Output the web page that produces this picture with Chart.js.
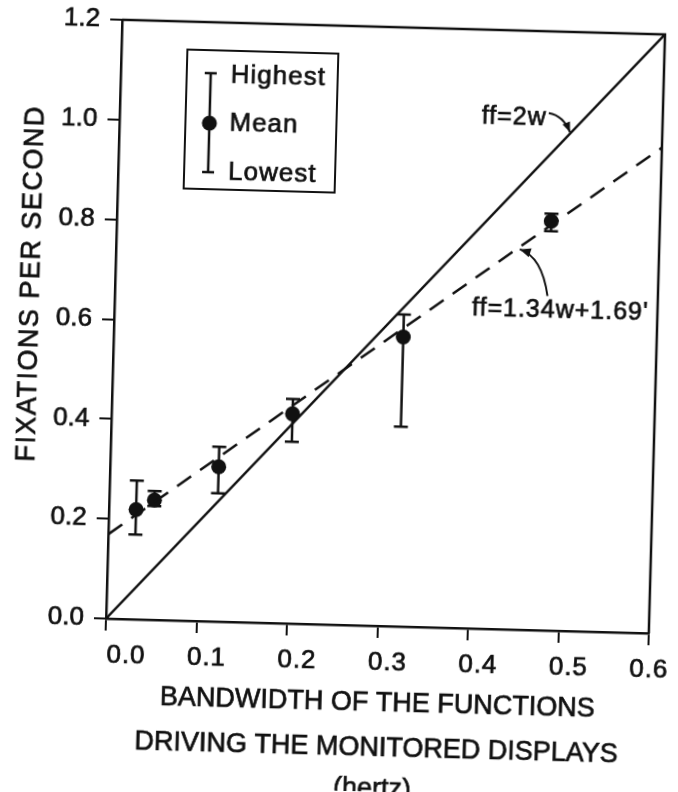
<!DOCTYPE html>
<html>
<head>
<meta charset="utf-8">
<script src="https://cdn.jsdelivr.net/npm/chart.js@4.4.1/dist/chart.umd.min.js"></script>
<style>
  html, body { margin: 0; padding: 0; background: #ffffff; overflow: hidden; }
  /* the printed figure sits slightly askew on its page */
  canvas { display: block; transform-origin: 385px 326px; transform: rotate(1.55deg); }
</style>
</head>
<body>
<canvas id="fixations" width="678" height="792"></canvas>
<script>
// Bandwidth of each monitored display's driving function (Hz)
const bandwidthHz = [0.03, 0.05, 0.12, 0.20, 0.32, 0.48];
// Fixation rate per display (fixations per second)
const meanFixRate = [0.22, 0.24, 0.31, 0.42, 0.58, 0.82];
const highFixRate = [0.278, 0.258, 0.35, 0.45, 0.625, 0.835];
const lowFixRate  = [0.17, 0.228, 0.257, 0.364, 0.40, 0.80];

// Reference lines, given at both ends of the bandwidth range
const lineBandwidth = [0, 0.6];
const nyquistRate = [0, 1.2];        // ff = 2w
const fittedRate = [0.169, 0.973];   // ff = 1.34w + .169

// Axis ticks
const xTickValues = [0, 0.1, 0.2, 0.3, 0.4, 0.5, 0.6];
const yTickValues = [0, 0.2, 0.4, 0.6, 0.8, 1.0, 1.2];

const FONT = '"Liberation Sans", Arial, Helvetica, sans-serif';
const INK = '#111111';

const toPoints = (xs, ys) => xs.map((x, i) => ({ x: x, y: ys[i] }));

function arrowHead(ctx, tx, ty, fx, fy, len, half) {
  const a = Math.atan2(ty - fy, tx - fx);
  ctx.beginPath();
  ctx.moveTo(tx, ty);
  ctx.lineTo(tx - len * Math.cos(a) + half * Math.sin(a), ty - len * Math.sin(a) - half * Math.cos(a));
  ctx.lineTo(tx - len * Math.cos(a) - half * Math.sin(a), ty - len * Math.sin(a) + half * Math.cos(a));
  ctx.closePath();
  ctx.fill();
}

function setSpacing(ctx, px) {
  if ('letterSpacing' in ctx) ctx.letterSpacing = px + 'px';
}

// filled text with a hairline outline so it reads as heavy print
function inkText(ctx, str, x, y) {
  ctx.fillText(str, x, y);
  ctx.strokeText(str, x, y);
}

const figurePlugin = {
  id: 'figureExtras',
  beforeDatasetsDraw(chart) {
    // high/low range bars behind the mean markers
    const { ctx, scales: { x, y } } = chart;
    ctx.save();
    ctx.strokeStyle = INK;
    ctx.lineWidth = 2.5;
    bandwidthHz.forEach((w, i) => {
      const px = x.getPixelForValue(w);
      const hi = y.getPixelForValue(highFixRate[i]);
      const lo = y.getPixelForValue(lowFixRate[i]);
      ctx.beginPath();
      ctx.moveTo(px, hi); ctx.lineTo(px, lo);
      ctx.moveTo(px - 7, hi); ctx.lineTo(px + 7, hi);
      ctx.moveTo(px - 7, lo); ctx.lineTo(px + 7, lo);
      ctx.stroke();
    });
    ctx.restore();
  },
  afterDraw(chart) {
    const { ctx, chartArea: ca, scales: { x, y } } = chart;
    const P = (w, f) => [x.getPixelForValue(w), y.getPixelForValue(f)];
    ctx.save();
    ctx.strokeStyle = INK;
    ctx.fillStyle = INK;

    // frame: top and right edges
    ctx.lineWidth = 2.5;
    ctx.beginPath();
    ctx.moveTo(ca.left, ca.top);
    ctx.lineTo(ca.right, ca.top);
    ctx.lineTo(ca.right, ca.bottom);
    ctx.stroke();

    // bandwidth tick labels, set just right of each tick
    setSpacing(ctx, 1);
    ctx.font = '26px ' + FONT;
    ctx.textAlign = 'center';
    ctx.textBaseline = 'middle';
    ctx.lineWidth = 0.7;
    const last = xTickValues.length - 1;
    xTickValues.forEach((v, i) => {
      const shift = i === 0 ? 21 : (i === last ? 1 : 11);
      inkText(ctx, v.toFixed(1), x.getPixelForValue(v) + shift, ca.bottom + 37);
    });

    // key box
    const bx = ca.left + 66, by = ca.top + 28, bw = 151, bh = 139;
    ctx.lineWidth = 2;
    ctx.strokeRect(bx, by, bw, bh);
    const sx = bx + 24;
    const yHi = by + 23, yMean = by + 73, yLo = by + 122;
    ctx.lineWidth = 2.5;
    ctx.beginPath();
    ctx.moveTo(sx, yHi); ctx.lineTo(sx, yLo);
    ctx.moveTo(sx - 6, yHi); ctx.lineTo(sx + 6, yHi);
    ctx.moveTo(sx - 6, yLo); ctx.lineTo(sx + 6, yLo);
    ctx.stroke();
    ctx.beginPath();
    ctx.arc(sx, yMean, 7.5, 0, Math.PI * 2);
    ctx.fill();
    ctx.font = '26px ' + FONT;
    ctx.textAlign = 'left';
    ctx.lineWidth = 0.7;
    inkText(ctx, 'Highest', sx + 20, yHi + 2);
    inkText(ctx, 'Mean', sx + 20, yMean);
    inkText(ctx, 'Lowest', sx + 20, yLo);

    // line labels with pointer arrows
    ctx.font = '25px ' + FONT;
    let [tx, ty] = P(0.40, 1.025);
    inkText(ctx, 'ff=2w', tx, ty);
    ctx.lineWidth = 2;
    let s = P(0.474, 1.036), c = P(0.49, 1.032), t = P(0.498, 0.999);
    ctx.beginPath();
    ctx.moveTo(s[0], s[1]);
    ctx.quadraticCurveTo(c[0], c[1], t[0], t[1]);
    ctx.stroke();
    arrowHead(ctx, t[0], t[1], c[0], c[1], 10, 4);

    [tx, ty] = P(0.395, 0.64);
    ctx.lineWidth = 0.7;
    inkText(ctx, "ff=1.34w+1.69'", tx, ty);
    ctx.lineWidth = 2;
    s = P(0.478, 0.67); c = P(0.471, 0.748); t = P(0.446, 0.762);
    ctx.beginPath();
    ctx.moveTo(s[0], s[1]);
    ctx.quadraticCurveTo(c[0], c[1], t[0], t[1]);
    ctx.stroke();
    arrowHead(ctx, t[0], t[1], c[0], c[1], 11, 4.5);

    // axis titles
    setSpacing(ctx, 0);
    ctx.font = '27px ' + FONT;
    ctx.textAlign = 'center';
    ctx.lineWidth = 0.7;
    const cx = (ca.left + ca.right) / 2 + 2;
    inkText(ctx, 'BANDWIDTH OF THE FUNCTIONS', cx, 704);
    inkText(ctx, 'DRIVING THE MONITORED DISPLAYS', cx, 749);
    inkText(ctx, '(hertz)', cx - 3, 790);

    setSpacing(ctx, 1.5);
    ctx.translate(31, 293);
    ctx.rotate(-Math.PI / 2);
    inkText(ctx, 'FIXATIONS PER SECOND', 0, 0);
    ctx.restore();
  }
};

const axisCommon = {
  type: 'linear',
  grid: { display: true, drawOnChartArea: false, drawTicks: true, tickLength: 12, color: INK, lineWidth: 2 },
  border: { display: true, color: INK, width: 2.5 },
};

new Chart(document.getElementById('fixations'), {
  type: 'scatter',
  data: {
    datasets: [
      {
        label: 'ff = 2w',
        type: 'line',
        data: toPoints(lineBandwidth, nyquistRate),
        borderColor: INK,
        borderWidth: 2.5,
        pointRadius: 0,
        fill: false,
      },
      {
        label: 'ff = 1.34w + .169',
        type: 'line',
        data: toPoints(lineBandwidth, fittedRate),
        borderColor: INK,
        borderWidth: 2.5,
        borderDash: [17, 11],
        pointRadius: 0,
        fill: false,
      },
      {
        label: 'Mean',
        data: toPoints(bandwidthHz, meanFixRate),
        pointRadius: 7.5,
        pointBackgroundColor: INK,
        pointBorderColor: INK,
        pointBorderWidth: 0,
        showLine: false,
      },
    ],
  },
  options: {
    responsive: false,
    animation: false,
    devicePixelRatio: 1,
    layout: { padding: { top: 27, right: 21, left: 0, bottom: 0 } },
    plugins: { legend: { display: false }, tooltip: { enabled: false } },
    scales: {
      x: Object.assign({}, axisCommon, {
        min: 0, max: 0.6,
        afterBuildTicks: (s) => { s.ticks = xTickValues.map(v => ({ value: v })); },
        afterFit: (s) => { s.height = 166; },
        ticks: { display: false },
      }),
      y: Object.assign({}, axisCommon, {
        min: 0, max: 1.2,
        afterBuildTicks: (s) => { s.ticks = yTickValues.map(v => ({ value: v })); },
        afterFit: (s) => { s.width = 114; },
        ticks: {
          color: INK,
          font: { family: FONT, size: 26 },
          padding: 10,
          textStrokeColor: INK,
          textStrokeWidth: 0.7,
          callback: (v) => Number(v).toFixed(1),
        },
      }),
    },
  },
  plugins: [figurePlugin],
});
</script>
</body>
</html>
